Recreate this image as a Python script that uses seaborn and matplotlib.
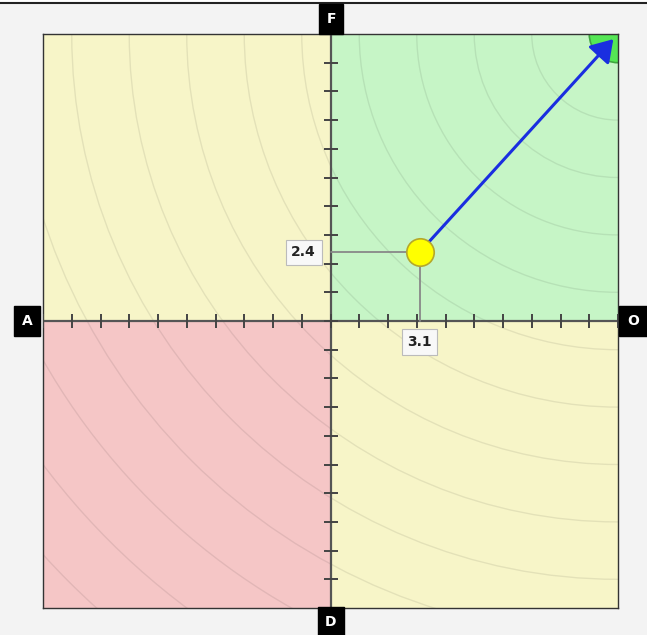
import numpy as np
import pandas as pd
import matplotlib.pyplot as plt
import seaborn as sns
from matplotlib.patches import Circle, Rectangle

# data
axis_range = 10
tick_values = list(range(-10, 11))
arc_radii = [1, 3, 5, 7, 9, 11, 13, 15, 17, 19, 21, 23, 25, 27, 29]
point_x, point_y = 3.1, 2.4
target_x, target_y = 10, 10
axis_labels = {"left": "A", "right": "O", "top": "F", "bottom": "D"}

sns.set_theme(style="white")
plt.rcParams['font.family'] = ['DejaVu Sans']

fig = plt.figure(figsize=(6.47, 6.35), dpi=100, facecolor='#f3f3f3')
ax = fig.add_axes([43 / 647, 27 / 635, 575 / 647, 574 / 635])
ax.set_xlim(-axis_range, axis_range)
ax.set_ylim(-axis_range, axis_range)

# quadrant backgrounds
quads = [((-10, 0), '#f7f5c8'), ((0, 0), '#c6f5c6'), ((-10, -10), '#f5c6c6'), ((0, -10), '#f7f5c8')]
for (qx, qy), col in quads:
    ax.add_patch(Rectangle((qx, qy), 10, 10, color=col, zorder=0, lw=0))

# distance arcs around the target
for r in arc_radii[1:]:
    ax.add_patch(Circle((target_x, target_y), r, fill=False, ec=(0, 0, 0, 0.08), lw=1.0, zorder=1))

# target
ax.add_patch(Circle((target_x, target_y), arc_radii[0], fc='#55e655', ec='#3fa53f', lw=1.2, zorder=2))

# axes lines
ax.axhline(0, color='#555555', lw=1.6, zorder=3)
ax.axvline(0, color='#555555', lw=1.6, zorder=3)
ticks = pd.DataFrame({"v": tick_values, "z": [0] * len(tick_values)})
sns.scatterplot(data=ticks, x="v", y="z", marker='|', s=110, color='#444444', linewidth=1.4, ax=ax, zorder=4, legend=False)
sns.scatterplot(data=ticks, x="z", y="v", marker='_', s=110, color='#444444', linewidth=1.4, ax=ax, zorder=4, legend=False)

# guide lines
sns.lineplot(x=[0, point_x], y=[point_y, point_y], color='#888888', lw=1.3, ax=ax, zorder=5,
             estimator=None, sort=False)
sns.lineplot(x=[point_x, point_x], y=[0, point_y], color='#888888', lw=1.3, ax=ax, zorder=5,
             estimator=None, sort=False, orient='y')

# arrow
ax.annotate("", xy=(target_x, target_y), xytext=(point_x, point_y),
            arrowprops=dict(arrowstyle='-|>,head_length=1.1,head_width=0.7', color='#1a2ee0', lw=2.2,
                            shrinkA=0, shrinkB=5), zorder=6)

# point
sns.scatterplot(x=[point_x], y=[point_y], s=390, color='#ffff00', edgecolor='#b5a82a', linewidth=1.2, ax=ax, zorder=7)

# value labels
box = dict(boxstyle='square,pad=0.4', fc='#f8f8f8', ec='#bbbbbb', lw=0.8)
ax.text(-0.5, point_y, f"{point_y}", ha='right', va='center', fontsize=10, fontweight='bold', color='#222222', bbox=box, zorder=8)
ax.text(point_x, -0.73, f"{point_x}", ha='center', va='center', fontsize=10, fontweight='bold', color='#222222', bbox=box, zorder=8)

ax.set_xticks([])
ax.set_yticks([])
ax.set_xlabel("")
ax.set_ylabel("")
for s in ax.spines.values():
    s.set_color('#333333')
    s.set_linewidth(1.0)

# axis end labels
lab = dict(ha='center', va='center', fontsize=10, fontweight='bold', color='white',
           bbox=dict(boxstyle='square,pad=0.55', fc='black', ec='black'))
fig.text(27 / 647, 1 - 321 / 635, axis_labels["left"], **lab)
fig.text(633 / 647, 1 - 321 / 635, axis_labels["right"], **lab)
fig.text(331 / 647, 1 - 19 / 635, axis_labels["top"], **lab)
fig.text(331 / 647, 1 - 622 / 635, axis_labels["bottom"], **lab)

# top border of the widget
fig.add_artist(Rectangle((0, 1 - 3 / 635), 1, 3 / 635, color='white', transform=fig.transFigure))
fig.add_artist(plt.Line2D([0, 1], [1 - 3 / 635, 1 - 3 / 635], color='#222222', lw=1.5))

fig.savefig('out.png', dpi=100, facecolor=fig.get_facecolor())
